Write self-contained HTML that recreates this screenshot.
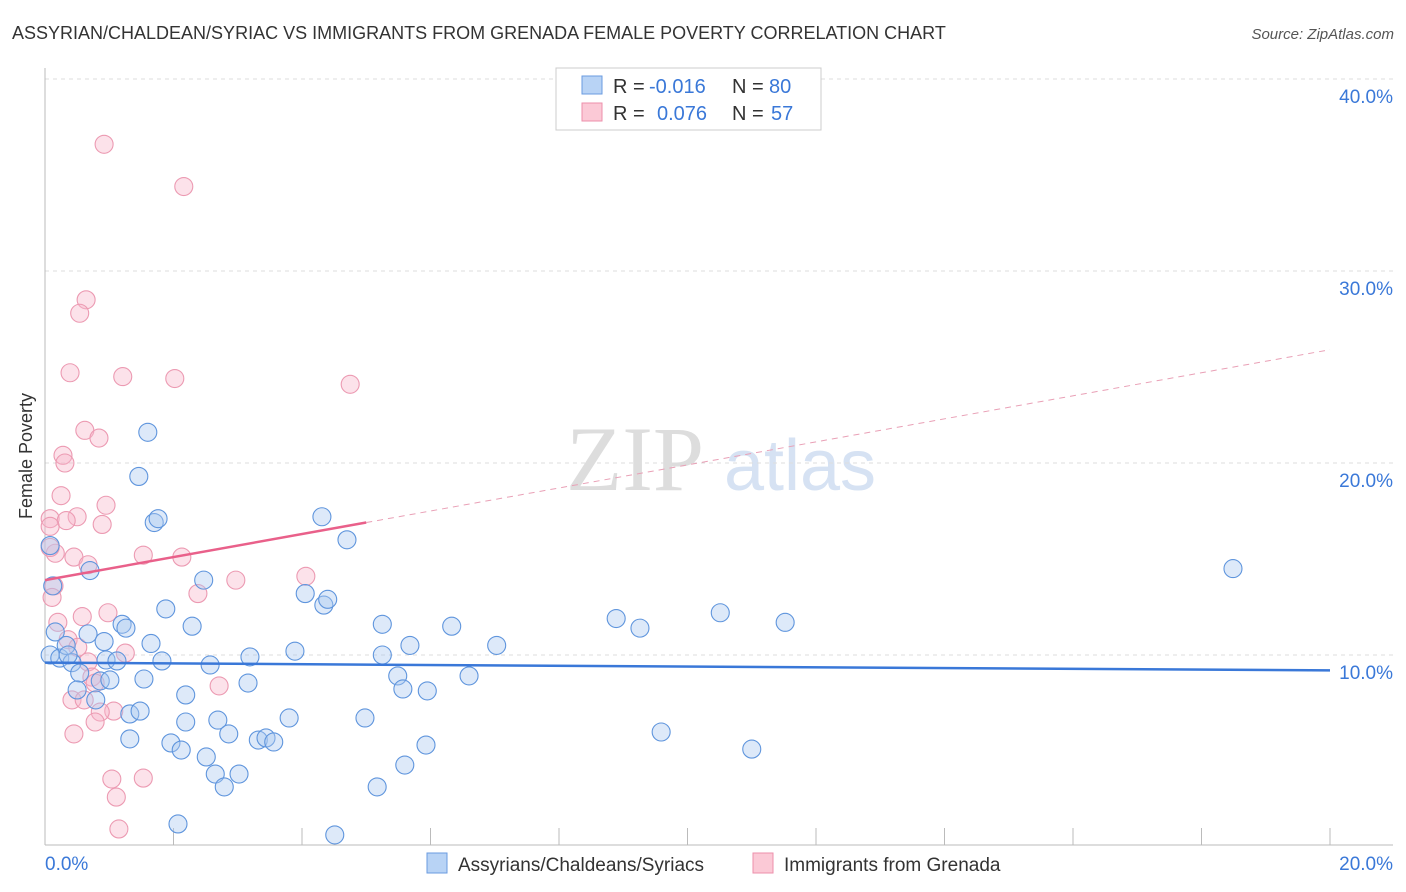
<!DOCTYPE html>
<html><head><meta charset="utf-8"><style>
body{margin:0;background:#fff;font-family:"Liberation Sans",sans-serif;}
svg{display:block}
</style></head><body>
<svg id="chart" width="1406" height="892">
<text x="12" y="39" font-size="18" fill="#333">ASSYRIAN/CHALDEAN/SYRIAC VS IMMIGRANTS FROM GRENADA FEMALE POVERTY CORRELATION CHART</text>
<text x="1394" y="39" font-size="15" fill="#555" font-style="italic" text-anchor="end">Source: ZipAtlas.com</text>
<text x="32" y="456" font-size="18" fill="#333" transform="rotate(-90 32 456)" text-anchor="middle">Female Poverty</text>
<g><text x="635" y="490" font-size="92" fill="#ddd" font-family="Liberation Serif,serif" text-anchor="middle">ZIP</text><text x="800" y="490" font-size="72" fill="#d6e2f3" text-anchor="middle">atlas</text></g>
<g id="grid"></g><g id="axes"></g><g id="pts"></g><g id="trends"></g>
<g>
<rect x="556" y="68" width="265" height="62" fill="#fff" stroke="#ccc"/>
<rect x="582" y="76" width="20" height="18" fill="#b8d3f5" stroke="#6a9be0"/>
<rect x="582" y="103" width="20" height="18" fill="#fbc9d6" stroke="#ec8fab"/>
<text x="613" y="93" font-size="20" fill="#333">R =</text>
<text x="649" y="93" font-size="20" fill="#3a78d8">-0.016</text>
<text x="732" y="93" font-size="20" fill="#333">N =</text>
<text x="769" y="93" font-size="20" fill="#3a78d8">80</text>
<text x="613" y="120" font-size="20" fill="#333">R =</text>
<text x="657" y="120" font-size="20" fill="#3a78d8">0.076</text>
<text x="732" y="120" font-size="20" fill="#333">N =</text>
<text x="771" y="120" font-size="20" fill="#3a78d8">57</text>
</g>
<g>
<rect x="427" y="853" width="20" height="20" fill="#b8d3f5" stroke="#6a9be0"/>
<text x="458" y="871" font-size="19" fill="#333">Assyrians/Chaldeans/Syriacs</text>
<rect x="753" y="853" width="20" height="20" fill="#fbc9d6" stroke="#ec8fab"/>
<text x="784" y="871" font-size="19" fill="#333">Immigrants from Grenada</text>
</g>
</svg>
<script>
const blueX=[.08,.16,.23,.33,.42,.54,.50,.67,.70,.79,.86,.92,.95,1.01,1.12,1.20,1.26,1.32,1.32,1.46,1.48,1.54,1.60,1.65,1.70,1.76,1.82,1.88,1.96,2.07,2.12,2.19,2.19,2.29,2.47,2.51,2.57,2.65,2.69,2.79,2.86,3.02,3.16,3.19,3.32,3.44,3.56,3.80,3.89,4.05,4.31,4.34,4.40,4.51,4.70,4.98,5.17,5.25,5.25,5.49,5.57,5.60,5.68,5.93,5.95,6.33,6.60,7.03,8.89,9.26,9.59,10.51,11.00,11.52,18.49,.08,.12,.36];
const blueY=[10.0,11.2,9.84,10.5,9.6,9.06,8.18,11.1,14.4,7.66,8.65,10.7,9.74,8.7,9.69,11.6,11.4,6.93,5.63,19.3,7.08,8.75,21.6,10.6,16.9,17.1,9.69,12.4,5.42,1.2,5.05,7.92,6.51,11.5,13.9,4.69,9.48,3.8,6.61,3.13,5.89,3.8,8.54,9.9,5.57,5.68,5.47,6.72,10.2,13.2,17.2,12.6,12.9,0.63,16.0,6.72,3.13,11.6,10.0,8.91,8.23,4.27,10.5,5.31,8.13,11.5,8.91,10.5,11.9,11.4,5.99,12.2,5.10,11.7,14.5,15.7,13.6,10.0];
const pinkX=[.92,2.16,.64,.54,.39,1.21,2.02,4.75,.62,.84,.28,.31,.25,.95,.08,.50,.33,.08,.89,1.53,2.13,.45,.16,.67,.14,.11,4.06,2.97,2.38,.58,.98,.20,.36,.51,1.25,.67,.73,.78,2.71,.42,.61,1.07,.86,.78,.45,1.04,1.53,1.11,1.15,.08];
const pinkY=[36.6,34.4,28.5,27.8,24.7,24.5,24.4,24.1,21.7,21.3,20.4,20.0,18.3,17.8,17.1,17.2,17.0,16.7,16.8,15.2,15.1,15.1,15.3,14.7,13.6,13.0,14.1,13.9,13.2,12.0,12.2,11.7,10.8,10.4,10.1,9.64,8.85,8.54,8.39,7.66,7.66,7.08,7.03,6.51,5.89,3.54,3.59,2.6,0.94,15.6];
const yTicks=[10,20,30,40];
const blueTrend=[9.6,9.2];
const pinkTrend=[13.9,25.9];
const pinkSolidEnd=5.0;
const sx=v=>45+v/20*1285, sy=v=>847-v*19.2;
const NS="http://www.w3.org/2000/svg";
function mk(t,a,p){const e=document.createElementNS(NS,t);for(const k in a)e.setAttribute(k,a[k]);p.appendChild(e);return e;}
const grid=document.getElementById('grid'),axes=document.getElementById('axes'),pts=document.getElementById('pts'),tr=document.getElementById('trends');
yTicks.forEach(t=>{const l=mk('line',{x1:45,x2:1393,y1:sy(t),y2:sy(t),stroke:'#ddd','stroke-dasharray':'4,4'},grid);


const tx=mk('text',{x:1393,y:sy(t)+24,'font-size':19,fill:'#3a78d8','text-anchor':'end'},axes);tx.textContent=t.toFixed(1)+'%';

});
mk('line',{x1:45,x2:45,y1:68,y2:845,stroke:'#bbb'},axes);
mk('line',{x1:45,x2:1393,y1:845,y2:845,stroke:'#bbb'},axes);
for(let i=1;i<=10;i++){mk('line',{x1:sx(i*2),x2:sx(i*2),y1:828,y2:845,stroke:'#bbb'},axes);}
const x0=mk('text',{x:45,y:870,'font-size':19,fill:'#3a78d8'},axes);x0.textContent='0.0%';


const x1=mk('text',{x:1393,y:870,'font-size':19,fill:'#3a78d8','text-anchor':'end'},axes);x1.textContent='20.0%';


pinkX.forEach((x,i)=>{const c=mk('circle',{cx:sx(x),cy:sy(pinkY[i]),r:9,fill:'rgba(248,182,202,0.4)',stroke:'#ec9ab2','stroke-width':1.1},pts);

});
blueX.forEach((x,i)=>{const c=mk('circle',{cx:sx(x),cy:sy(blueY[i]),r:9,fill:'rgba(170,200,240,0.4)',stroke:'#5f95dd','stroke-width':1.1},pts);

});
const bl=mk('line',{x1:sx(0),y1:sy(blueTrend[0]),x2:sx(20),y2:sy(blueTrend[1]),stroke:'#3a78d8','stroke-width':2.5},tr);


const pAt=x=>pinkTrend[0]+(pinkTrend[1]-pinkTrend[0])*x/20;
const pl=mk('line',{x1:sx(0),y1:sy(pAt(0)),x2:sx(pinkSolidEnd),y2:sy(pAt(pinkSolidEnd)),stroke:'#e9608a','stroke-width':2.5},tr);


const pd=mk('line',{x1:sx(pinkSolidEnd),y1:sy(pAt(pinkSolidEnd)),x2:sx(20),y2:sy(pAt(20)),stroke:'#e9a0b6','stroke-width':1,'stroke-dasharray':'6,5'},tr);


</script>
</body></html>
